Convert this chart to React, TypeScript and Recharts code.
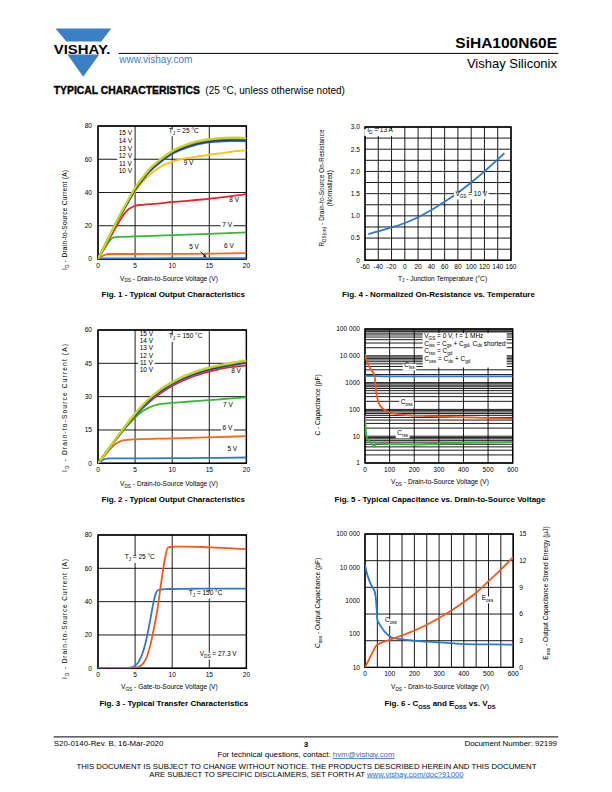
import React from "react";
import {
  LineChart,
  Line,
  XAxis,
  YAxis,
  CartesianGrid,
  ReferenceArea,
  ReferenceDot,
  ReferenceLine,
} from "recharts";

// ---------- Fig. 1 - output characteristics, TJ = 25 °C ----------
const fig1Vds = [0, 1, 2, 3, 4, 5, 6, 7, 8, 9, 10, 11, 12, 13, 14, 15, 16, 17, 18, 19, 20];
const fig1Id15V = [0, 9, 18, 27, 35, 43, 49, 54.5, 58.5, 62, 65, 67.2, 69, 70.4, 71.4, 72.1, 72.6, 72.9, 73, 73, 72.8];
const fig1Id14V = [0, 9, 18, 26.8, 34.8, 42.7, 48.7, 54.2, 58.2, 61.7, 64.7, 66.9, 68.6, 70, 71, 71.7, 72.2, 72.5, 72.6, 72.6, 72.4];
const fig1Id13V = [0, 8.9, 17.8, 26.6, 34.5, 42.4, 48.4, 53.8, 57.8, 61.3, 64.3, 66.5, 68.2, 69.6, 70.6, 71.3, 71.8, 72.1, 72.2, 72.2, 72];
const fig1Id12V = [0, 8.9, 17.7, 26.4, 34.3, 42.1, 48.1, 53.5, 57.5, 61, 64, 66.1, 67.8, 69.2, 70.2, 70.9, 71.4, 71.7, 71.8, 71.8, 71.6];
const fig1Id11V = [0, 8.8, 17.6, 26.2, 34, 41.8, 47.8, 53.1, 57.1, 60.6, 63.6, 65.7, 67.4, 68.8, 69.8, 70.5, 71, 71.2, 71.3, 71.3, 71.1];
const fig1Id10V = [0, 8.8, 17.5, 26, 33.8, 41.5, 47.4, 52.7, 56.7, 60.2, 63.2, 65.3, 67, 68.4, 69.4, 70.1, 70.5, 70.8, 70.9, 70.9, 70.8];
const fig1Id9V = [0, 8.7, 17.3, 25.7, 33.3, 40.5, 46.2, 50.8, 54.3, 56.8, 58.6, 59.8, 60.7, 61.4, 62.1, 62.7, 63.3, 63.9, 64.5, 65, 65.5];
const fig1Vds8V = [0, 1, 2, 3, 3.5, 4, 4.5, 5, 6, 8, 10, 12, 14, 16, 18, 20];
const fig1Id8V = [0, 8, 15.8, 23.5, 27, 29.5, 31, 32, 32.6, 33.3, 34.3, 35, 35.8, 36.8, 37.8, 39];
const fig1Vds7V = [0, 0.5, 1, 1.5, 2, 2.5, 3, 5, 10, 15, 20];
const fig1Id7V = [0, 3.5, 7, 10.5, 12.8, 13.2, 13.3, 13.6, 14.3, 15.1, 16];
const fig1Vds6V = [0, 0.5, 1, 1.5, 2, 5, 10, 15, 20];
const fig1Id6V = [0, 1.5, 2.7, 3, 3, 3, 3.1, 3.2, 3.5];
const fig1Vds5V = [0, 0.5, 1, 5, 10, 15, 20];
const fig1Id5V = [0, 0.3, 0.4, 0.4, 0.45, 0.5, 0.5];

// ---------- Fig. 2 - output characteristics, TJ = 150 °C ----------
const fig2Vds = [0, 1, 2, 3, 4, 5, 6, 7, 8, 9, 10, 11, 12, 13, 14, 15, 16, 17, 18, 19, 20];
const fig2Id15V = [0, 4.5, 9.2, 13.8, 18.2, 22.4, 26.2, 29.5, 32.3, 34.6, 36.6, 38.3, 39.8, 41.1, 42.2, 43.1, 43.9, 44.6, 45.2, 45.8, 46.3];
const fig2Id14V = [0, 4.5, 9.1, 13.7, 18.1, 22.2, 26, 29.2, 32, 34.3, 36.3, 38, 39.5, 40.8, 41.9, 42.8, 43.6, 44.3, 44.9, 45.5, 46];
const fig2Id13V = [0, 4.5, 9.1, 13.6, 18, 22.1, 25.8, 29, 31.8, 34.1, 36.1, 37.8, 39.3, 40.6, 41.7, 42.6, 43.4, 44.1, 44.7, 45.3, 45.8];
const fig2Id12V = [0, 4.5, 9, 13.5, 17.9, 21.9, 25.6, 28.8, 31.6, 33.9, 35.9, 37.6, 39.1, 40.4, 41.5, 42.4, 43.2, 43.9, 44.5, 45.1, 45.6];
const fig2Id11V = [0, 4.4, 9, 13.5, 17.8, 21.8, 25.4, 28.6, 31.4, 33.7, 35.7, 37.4, 38.9, 40.2, 41.3, 42.2, 43, 43.7, 44.3, 44.9, 45.4];
const fig2Id10V = [0, 4.4, 8.9, 13.4, 17.7, 21.6, 25.2, 28.4, 31.2, 33.5, 35.5, 37.2, 38.7, 40, 41.1, 42, 42.8, 43.5, 44.1, 44.6, 45.1];
const fig2Id8V = [0, 4.4, 8.9, 13.3, 17.5, 21.2, 24.7, 27.8, 30.5, 32.8, 34.8, 36.5, 38, 39.3, 40.4, 41.3, 42.1, 42.8, 43.3, 43.7, 44.1];
const fig2Vds7V = [0, 1, 2, 3, 4, 5, 6, 7, 8, 9, 10, 12, 14, 16, 18, 20];
const fig2Id7V = [0, 4.4, 8.8, 13, 17, 20.6, 23.4, 25.3, 26.4, 26.9, 27.2, 27.7, 28.2, 28.7, 29.2, 29.7];
const fig2Vds6V = [0, 1, 2, 2.5, 3, 3.5, 4, 5, 10, 15, 20];
const fig2Id6V = [0, 3.8, 7.6, 9, 9.9, 10.4, 10.6, 10.8, 11.2, 11.7, 12.2];
const fig2Vds5V = [0, 0.5, 1, 1.5, 5, 10, 15, 20];
const fig2Id5V = [0, 1.2, 2, 2.2, 2.2, 2.3, 2.4, 2.6];

// ---------- Fig. 3 - transfer characteristics ----------
const fig3Vgs25 = [0, 4, 5, 5.5, 6, 6.5, 7, 7.5, 8, 8.5, 9, 9.4, 9.8, 10.5, 12, 14, 16, 18, 20];
const fig3Id25 = [0.3, 0.3, 0.4, 1, 2.5, 6, 13, 23, 35, 51, 65, 72.3, 72.8, 73, 73, 72.8, 72.4, 72, 71.5];
const fig3Vgs150 = [0, 2, 4, 4.5, 5, 5.5, 6, 6.5, 7, 7.5, 7.8, 8.1, 8.5, 9, 10, 12, 14, 16, 18, 20];
const fig3Id150 = [0.3, 0.3, 0.3, 0.5, 1.5, 4, 9, 17, 28, 40, 45, 47, 47.3, 47.5, 47.6, 47.7, 47.8, 47.8, 47.8, 47.8];

// ---------- Fig. 4 - normalized RDS(on) vs. temperature ----------
const fig4Tj = [-55, -40, -20, 0, 20, 40, 60, 80, 100, 120, 140, 150];
const fig4Rds = [0.59, 0.65, 0.74, 0.84, 0.97, 1.13, 1.32, 1.52, 1.75, 2.0, 2.27, 2.41];

// ---------- Fig. 5 - capacitance vs. VDS ----------
const fig5VdsCiss = [0, 50, 100, 200, 300, 400, 500, 600];
const fig5Ciss = [1800, 1750, 1720, 1710, 1700, 1700, 1700, 1700];
const fig5VdsCoss = [0, 5, 10, 20, 30, 36, 40, 43, 46, 50, 55, 65, 80, 100, 130, 180, 250, 350, 450, 600];
const fig5Coss = [11500, 7500, 5400, 3500, 2600, 2100, 1500, 800, 400, 270, 180, 125, 95, 78, 66, 60, 56, 52, 49, 45];
const fig5VdsCrss = [0, 2, 4, 7, 12, 20, 28, 34, 38, 42, 47, 55, 70, 100, 150, 200, 300, 400, 500, 600];
const fig5Crss = [60, 25, 13, 9, 7.5, 6.2, 5, 4.2, 4, 4.8, 5.6, 5.5, 5.3, 5.1, 5, 4.9, 5.3, 5.6, 5.8, 6];
const fig5Legend = [
  "V_{GS} = 0 V, f = 1 MHz",
  "C_{iss} = C_{gs} + C_{gd}, C_{ds} shorted",
  "C_{rss} = C_{gd}",
  "C_{oss} = C_{ds} + C_{gd}",
];

// ---------- Fig. 6 - Coss and Eoss vs. VDS ----------
const fig6VdsCoss = [0, 8, 16, 26, 36, 40, 43, 47, 50, 57, 64, 75, 84, 104, 130, 158, 200, 253, 320, 388, 500, 600];
const fig6Coss = [12000, 6500, 4300, 2900, 2140, 1800, 1350, 600, 270, 210, 170, 130, 108, 81, 73, 68, 63, 59, 55, 51, 49, 48];
const fig6VdsEoss = [0, 10, 20, 30, 40, 47, 60, 100, 150, 200, 250, 300, 350, 400, 450, 500, 550, 600];
const fig6Eoss = [0, 0.55, 1.1, 1.65, 2.2, 2.5, 2.7, 3.1, 3.6, 4.15, 4.8, 5.55, 6.4, 7.35, 8.4, 9.7, 11.0, 12.4];

// ---------- ticks ----------
const vTicks20 = [0, 5, 10, 15, 20];
const id80Ticks = [0, 20, 40, 60, 80];
const id60Ticks = [0, 15, 30, 45, 60];
const tjTicks = [-60, -40, -20, 0, 20, 40, 60, 80, 100, 120, 140, 160];
const rdsTicks = [0, 0.25, 0.5, 0.75, 1, 1.25, 1.5, 1.75, 2, 2.25, 2.5, 2.75, 3];
const v600Ticks = [0, 100, 200, 300, 400, 500, 600];
const v600Ticks50 = [0, 50, 100, 150, 200, 250, 300, 350, 400, 450, 500, 550, 600];
const capDecades = [1, 10, 100, 1000, 10000];
const capMinor = [1, 2, 3, 4, 5, 6, 7, 8, 9];
const capTicks = [...capDecades.flatMap((d) => capMinor.map((m) => d * m)), 100000];
const cossTicks = [10, 100, 1000, 10000, 100000];
const eossTicks = [0, 3, 6, 9, 12, 15];
const capLabels: Record<number, string> = {
  1: "1", 10: "10", 100: "100", 1000: "1000", 10000: "10\u00a0000", 100000: "100\u00a0000",
};

// ---------- labels placed in data units ----------
const fig1Tags = [
  { text: "15 V", x: 3.7, y: 74.6 },
  { text: "14 V", x: 3.7, y: 69.8 },
  { text: "13 V", x: 3.7, y: 65.2 },
  { text: "12 V", x: 3.7, y: 60.6 },
  { text: "11 V", x: 3.7, y: 56.1 },
  { text: "10 V", x: 3.7, y: 51.9 },
  { text: "T_{J} = 25 °C", x: 11.55, y: 76 },
  { text: "9 V", x: 12.2, y: 56.5 },
  { text: "8 V", x: 18.35, y: 34.1 },
  { text: "7 V", x: 17.4, y: 19.25 },
  { text: "6 V", x: 17.65, y: 6.6 },
  { text: "5 V", x: 12.94, y: 5.8 },
];
const fig2Tags = [
  { text: "15 V", x: 6.52, y: 57.5 },
  { text: "14 V", x: 6.52, y: 54.2 },
  { text: "13 V", x: 6.52, y: 50.9 },
  { text: "12 V", x: 6.52, y: 47.6 },
  { text: "11 V", x: 6.52, y: 44.2 },
  { text: "10 V", x: 6.52, y: 40.9 },
  { text: "T_{J} = 150 °C", x: 11.8, y: 56.2 },
  { text: "8 V", x: 18.6, y: 40.5 },
  { text: "7 V", x: 17.5, y: 25.2 },
  { text: "6 V", x: 17.45, y: 15 },
  { text: "5 V", x: 18.1, y: 5.7 },
];
const fig3Tags = [
  { text: "T_{J} = 25 °C", x: 5.62, y: 65.4 },
  { text: "T_{J} = 150 °C", x: 14.5, y: 44 },
  { text: "V_{DS} = 27.3 V", x: 16.2, y: 7.4 },
];
const fig4Tags = [
  { text: "I_{D} = 13 A", x: -37.4, y: 2.88 },
  { text: "V_{GS} = 10 V", x: 100.2, y: 1.45 },
];
const fig5Tags = [
  { text: "C_{iss}", x: 181, y: 3820 },
  { text: "C_{oss}", x: 169, y: 163 },
  { text: "C_{rss}", x: 153, y: 11.4 },
];
const fig6Tags = [
  { text: "C_{oss}", x: 105, y: 223 },
  { text: "E_{oss}", x: 496, y: 1070 },
];

const FONT = '"Liberation Sans", Arial, Helvetica, sans-serif';
const BLUE = "#2f78c8";
const ORANGE = "#f05a1e";
const GREEN = "#3cb43c";
const RED = "#e8262b";
const GOLD = "#ffc20e";
const gateColors: Record<string, string> = {
  "15 V": "#c6d42c",
  "14 V": "#a3a23a",
  "13 V": "#555555",
  "12 V": "#1c2f6b",
  "11 V": "#2a55a5",
  "10 V": "#3478c8",
  "9 V": GOLD,
  "8 V": RED,
  "7 V": GREEN,
  "6 V": "#f26a21",
  "5 V": BLUE,
};

const pts = (xs: number[], ys: number[]) => xs.map((x, i) => ({ x, y: ys[i] }));

const fig1Series = [
  { name: "5 V", x: fig1Vds5V, y: fig1Id5V },
  { name: "6 V", x: fig1Vds6V, y: fig1Id6V },
  { name: "7 V", x: fig1Vds7V, y: fig1Id7V },
  { name: "8 V", x: fig1Vds8V, y: fig1Id8V },
  { name: "9 V", x: fig1Vds, y: fig1Id9V },
  { name: "10 V", x: fig1Vds, y: fig1Id10V },
  { name: "11 V", x: fig1Vds, y: fig1Id11V },
  { name: "12 V", x: fig1Vds, y: fig1Id12V },
  { name: "13 V", x: fig1Vds, y: fig1Id13V },
  { name: "14 V", x: fig1Vds, y: fig1Id14V },
  { name: "15 V", x: fig1Vds, y: fig1Id15V },
];
const fig2Series = [
  { name: "5 V", x: fig2Vds5V, y: fig2Id5V },
  { name: "6 V", x: fig2Vds6V, y: fig2Id6V },
  { name: "7 V", x: fig2Vds7V, y: fig2Id7V },
  { name: "8 V", x: fig2Vds, y: fig2Id8V },
  { name: "10 V", x: fig2Vds, y: fig2Id10V },
  { name: "11 V", x: fig2Vds, y: fig2Id11V },
  { name: "12 V", x: fig2Vds, y: fig2Id12V },
  { name: "13 V", x: fig2Vds, y: fig2Id13V },
  { name: "14 V", x: fig2Vds, y: fig2Id14V },
  { name: "15 V", x: fig2Vds, y: fig2Id15V },
];

// chart box geometry: plot rect in page px
const MT = 6;
const MR = 6;
const YW = 40;
const XH = 16;
type PlotRect = { L: number; T: number; W: number; H: number; RW?: number };
const fig1Rect: PlotRect = { L: 98.3, T: 126, W: 148.4, H: 133 };
const fig2Rect: PlotRect = { L: 98.3, T: 330, W: 148.4, H: 133.3 };
const fig3Rect: PlotRect = { L: 98.3, T: 535, W: 148.4, H: 133.3 };
const fig4Rect: PlotRect = { L: 365, T: 126.7, W: 146, H: 133.3 };
const fig5Rect: PlotRect = { L: 365, T: 329.3, W: 147.7, H: 134 };
const fig6Rect: PlotRect = { L: 364.5, T: 534.3, W: 148.2, H: 133.4, RW: 24 };

const tickStyle = { fontSize: 6.6, fill: "#000" };

function Rich({ s, size }: { s: string; size: number }) {
  const parts = s.split(/(_\{[^}]*\})/).filter((p) => p !== "");
  const shift = size * 0.3;
  let low = false;
  return (
    <>
      {parts.map((p, i) => {
        if (p.startsWith("_{")) {
          const el = (
            <tspan key={i} fontSize={size * 0.72} dy={low ? 0 : shift}>
              {p.slice(2, -1)}
            </tspan>
          );
          low = true;
          return el;
        }
        const el = (
          <tspan key={i} fontSize={size} dy={low ? -shift : 0}>
            {p}
          </tspan>
        );
        low = false;
        return el;
      })}
    </>
  );
}

function charW(c: string) {
  if (c === " ") return 0.278;
  if (/[0-9]/.test(c)) return 0.556;
  if (/[ilj.,:;|]/.test(c)) return 0.24;
  if (/[ft()\-r]/.test(c)) return 0.31;
  if (/[mwMW]/.test(c)) return 0.85;
  if (/[A-Z]/.test(c)) return 0.68;
  if (c === "=" || c === "+") return 0.584;
  if (c === "°") return 0.4;
  return 0.53;
}
function textWidth(s: string, size: number) {
  return s
    .split(/(_\{[^}]*\})/)
    .filter((p) => p !== "")
    .reduce((w, p) => {
      const sub = p.startsWith("_{");
      const t = sub ? p.slice(2, -1) : p;
      return w + [...t].reduce((a, c) => a + charW(c), 0) * size * (sub ? 0.72 : 1);
    }, 0);
}

const tagShape = (text: string, size = 6.5) => (p: any) => {
  const w = textWidth(text, size);
  return (
    <g>
      <rect x={p.cx - w / 2 - 1.5} y={p.cy - size * 0.5} width={w + 3} height={size * 1.05} fill="#fff" />
      <text x={p.cx} y={p.cy} dy={size * 0.35} textAnchor="middle" fontSize={size} fill="#000">
        <Rich s={text} size={size} />
      </text>
    </g>
  );
};

const legendShape = (p: any) => (
  <g>
    <rect x={p.cx} y={p.cy} width={84} height={34.5} fill="#fff" />
    {fig5Legend.map((s, i) => (
      <text key={i} x={p.cx + 1.5} y={p.cy + 5 + i * 7.55} dy={2.3} fontSize={6.5} fill="#000">
        <Rich s={s} size={6.5} />
      </text>
    ))}
  </g>
);

const arrowShape = (p: any) => {
  const { x1, y1, x2, y2 } = p;
  const a = Math.atan2(y2 - y1, x2 - x1);
  const len = 3.4;
  const hw = 1.7;
  const bx = x2 - len * Math.cos(a);
  const by = y2 - len * Math.sin(a);
  const head = `${x2},${y2} ${bx + hw * Math.sin(a)},${by - hw * Math.cos(a)} ${bx - hw * Math.sin(a)},${by + hw * Math.cos(a)}`;
  return (
    <g>
      <line x1={x1} y1={y1} x2={bx} y2={by} stroke="#000" strokeWidth={0.8} />
      <polygon points={head} fill="#000" />
    </g>
  );
};

function Frame({ r, children }: { r: PlotRect; children: React.ReactNode }) {
  const rw = r.RW ?? 0;
  const w = YW + r.W + MR + rw;
  const h = MT + r.H + XH;
  return (
    <div style={{ position: "absolute", left: r.L - YW, top: r.T - MT, width: w, height: h }}>
      <LineChart width={w} height={h} margin={{ top: MT, right: MR, bottom: 0, left: 0 }}>
        {children}
      </LineChart>
    </div>
  );
}

function Txt({
  x, y, s, size = 6.6, anchor = "start", weight = "normal", rotate = false, len, fill = "#000",
}: {
  x: number; y: number; s: string; size?: number; anchor?: string; weight?: string;
  rotate?: boolean; len?: number; fill?: string;
}) {
  return (
    <text
      x={rotate ? 0 : x}
      y={rotate ? 0 : y}
      transform={rotate ? `translate(${x},${y}) rotate(-90)` : undefined}
      textAnchor={anchor as any}
      fontSize={size}
      fontWeight={weight}
      fill={fill}
      textLength={len}
      lengthAdjust={len ? "spacing" : undefined}
    >
      <Rich s={s} size={size} />
    </text>
  );
}

const xAxisCommon = {
  type: "number" as const,
  dataKey: "x",
  interval: 0 as const,
  tickLine: false,
  axisLine: false,
  tick: tickStyle,
  tickSize: 2,
  tickMargin: 2,
  height: XH,
  allowDataOverflow: true,
};
const yAxisCommon = {
  type: "number" as const,
  interval: 0 as const,
  tickLine: false,
  axisLine: false,
  tick: tickStyle,
  tickSize: 3,
  tickMargin: 3,
  width: YW,
  allowDataOverflow: true,
};

export default function App() {
  return (
    <div
      style={{
        position: "absolute",
        left: 0,
        top: 0,
        width: 612,
        height: 792,
        background: "#fff",
        overflow: "hidden",
        fontFamily: FONT,
      }}
    >
      <svg width={612} height={792} style={{ position: "absolute", left: 0, top: 0 }}>
        {/* header */}
        <polygon points="55.5,28.6 111.3,28.6 101.3,41.6 66.4,41.6" fill="#3b80c6" />
        <polygon points="67.4,54.6 99.2,54.6 83.2,76.8" fill="#3b80c6" />
        <text x={53.8} y={53.6} fontSize={13.6} fontWeight="bold" textLength={56.5} lengthAdjust="spacingAndGlyphs" fill="#000">
          VISHAY.
        </text>
        <line x1={118.5} y1={53.4} x2={558.3} y2={53.4} stroke="#000" strokeWidth={1} />
        <text x={557} y={47.5} fontSize={15.5} fontWeight="bold" textAnchor="end" fill="#000">
          SiHA100N60E
        </text>
        <text x={557} y={67.8} fontSize={13} textAnchor="end" fill="#000">
          Vishay Siliconix
        </text>
        <text x={119.2} y={63.3} fontSize={10} fill="#3b80c6">
          www.vishay.com
        </text>
        <text x={53.8} y={94} fontSize={10} fontWeight={900} stroke="#000" strokeWidth={0.35} fill="#000" textLength={146} lengthAdjust="spacingAndGlyphs">
          TYPICAL CHARACTERISTICS
        </text>
        <text x={205.3} y={94} fontSize={10} fill="#000">
          (25 °C, unless otherwise noted)
        </text>

        {/* axis titles */}
        <Txt x={120} y={280.5} s="V_{DS} - Drain-to-Source Voltage (V)" />
        <Txt x={67} y={220} s="I_{D} - Drain-to-Source Current (A)" anchor="middle" rotate len={100} />
        <Txt x={120} y={485.7} s="V_{DS} - Drain-to-Source Voltage (V)" />
        <Txt x={67} y={408} s="I_{D} - Drain-to-Source Current (A)" anchor="middle" rotate len={128} />
        <Txt x={121} y={689.3} s="V_{GS} - Gate-to-Source Voltage (V)" />
        <Txt x={67} y={619} s="I_{D} - Drain-to-Source Current (A)" anchor="middle" rotate len={120} />
        <Txt x={442.5} y={280.5} s="T_{J} - Junction Temperature (°C)" anchor="middle" />
        <Txt x={324} y={188} s="R_{DS(on)} - Drain-to-Source On-Resistance" size={6.3} anchor="middle" rotate len={117} />
        <Txt x={331.5} y={188.3} s="(Normalized)" size={6.3} anchor="middle" rotate />
        <Txt x={391} y={484.3} s="V_{DS} - Drain-to-Source Voltage (V)" />
        <Txt x={319.5} y={405} s="C - Capacitance (pF)" anchor="middle" rotate />
        <Txt x={391} y={689.3} s="V_{DS} - Drain-to-Source Voltage (V)" />
        <Txt x={320} y={603} s="C_{oss} - Output Capacitance (pF)" anchor="middle" rotate />
        <Txt x={548} y={593} s="E_{oss} - Output Capacitance Stored Energy (µJ)" anchor="middle" rotate />

        {/* captions */}
        <Txt x={173.3} y={296.5} s="Fig. 1 - Typical Output Characteristics" size={8} weight="bold" anchor="middle" />
        <Txt x={438.5} y={296.5} s="Fig. 4 - Normalized On-Resistance vs. Temperature" size={8} weight="bold" anchor="middle" />
        <Txt x={173.3} y={501.5} s="Fig. 2 - Typical Output Characteristics" size={8} weight="bold" anchor="middle" />
        <Txt x={440} y={501.5} s="Fig. 5 - Typical Capacitance vs. Drain-to-Source Voltage" size={8} weight="bold" anchor="middle" />
        <Txt x={173.8} y={706.4} s="Fig. 3 - Typical Transfer Characteristics" size={8} weight="bold" anchor="middle" />
        <Txt x={440} y={706.4} s="Fig. 6 - C_{OSS} and E_{OSS} vs. V_{DS}" size={8} weight="bold" anchor="middle" />

        {/* footer */}
        <line x1={53.8} y1={736.9} x2={558.3} y2={736.9} stroke="#000" strokeWidth={1} />
        <text x={53.8} y={746.4} fontSize={7.9} fill="#000">S20-0140-Rev. B, 16-Mar-2020</text>
        <text x={306} y={747} fontSize={8} fontWeight="bold" textAnchor="middle" fill="#000">3</text>
        <text x={557} y={746.4} fontSize={7.9} textAnchor="end" fill="#000">Document Number: 92199</text>
        <text x={306} y={757.2} fontSize={7.9} textAnchor="middle" fill="#000">
          For technical questions, contact:{" "}
          <tspan fill="#2a6fc9" textDecoration="underline">hvm@vishay.com</tspan>
        </text>
        <text x={306.4} y={768.5} fontSize={7.7} textAnchor="middle" fill="#000" textLength={460} lengthAdjust="spacingAndGlyphs">
          THIS DOCUMENT IS SUBJECT TO CHANGE WITHOUT NOTICE. THE PRODUCTS DESCRIBED HEREIN AND THIS DOCUMENT
        </text>
        <text x={306.4} y={776.5} fontSize={7.7} textAnchor="middle" fill="#000">
          ARE SUBJECT TO SPECIFIC DISCLAIMERS, SET FORTH AT{" "}
          <tspan fill="#2a6fc9" textDecoration="underline">www.vishay.com/doc?91000</tspan>
        </text>
      </svg>

      {/* Fig. 1 */}
      <Frame r={fig1Rect}>
        <CartesianGrid stroke="#000" strokeWidth={0.9} />
        <XAxis {...xAxisCommon} domain={[0, 20]} ticks={vTicks20} />
        <YAxis {...yAxisCommon} domain={[0, 80]} ticks={id80Ticks} />
        {fig1Series.map((s) => (
          <Line
            key={s.name}
            data={pts(s.x, s.y)}
            dataKey="y"
            type="monotone"
            stroke={gateColors[s.name]}
            strokeWidth={s.name === "15 V" ? 2.2 : 1.8}
            dot={false}
            isAnimationActive={false}
          />
        ))}
        <ReferenceArea x1={0} x2={20} y1={0} y2={80} fill="none" stroke="#000" strokeWidth={1.4} ifOverflow="visible" />
        {fig1Tags.map((t) => (
          <ReferenceDot key={t.text} x={t.x} y={t.y} r={0} shape={tagShape(t.text)} ifOverflow="visible" />
        ))}
        <ReferenceLine segment={[{ x: 13.75, y: 4.8 }, { x: 14.6, y: 0.9 }]} shape={arrowShape} ifOverflow="visible" />
      </Frame>

      {/* Fig. 2 */}
      <Frame r={fig2Rect}>
        <CartesianGrid stroke="#000" strokeWidth={0.9} />
        <XAxis {...xAxisCommon} domain={[0, 20]} ticks={vTicks20} />
        <YAxis {...yAxisCommon} domain={[0, 60]} ticks={id60Ticks} />
        {fig2Series.map((s) => (
          <Line
            key={s.name}
            data={pts(s.x, s.y)}
            dataKey="y"
            type="monotone"
            stroke={gateColors[s.name]}
            strokeWidth={s.name === "15 V" ? 2.2 : 1.8}
            dot={false}
            isAnimationActive={false}
          />
        ))}
        <ReferenceArea x1={0} x2={20} y1={0} y2={60} fill="none" stroke="#000" strokeWidth={1.4} ifOverflow="visible" />
        {fig2Tags.map((t) => (
          <ReferenceDot key={t.text} x={t.x} y={t.y} r={0} shape={tagShape(t.text)} ifOverflow="visible" />
        ))}
      </Frame>

      {/* Fig. 3 */}
      <Frame r={fig3Rect}>
        <CartesianGrid stroke="#000" strokeWidth={0.9} />
        <XAxis {...xAxisCommon} domain={[0, 20]} ticks={vTicks20} />
        <YAxis {...yAxisCommon} domain={[0, 80]} ticks={id80Ticks} />
        <Line data={pts(fig3Vgs150, fig3Id150)} dataKey="y" type="monotone" stroke={BLUE} strokeWidth={1.8} dot={false} isAnimationActive={false} />
        <Line data={pts(fig3Vgs25, fig3Id25)} dataKey="y" type="monotone" stroke={ORANGE} strokeWidth={1.8} dot={false} isAnimationActive={false} />
        <ReferenceArea x1={0} x2={20} y1={0} y2={80} fill="none" stroke="#000" strokeWidth={1.4} ifOverflow="visible" />
        {fig3Tags.map((t) => (
          <ReferenceDot key={t.text} x={t.x} y={t.y} r={0} shape={tagShape(t.text)} ifOverflow="visible" />
        ))}
      </Frame>

      {/* Fig. 4 */}
      <Frame r={fig4Rect}>
        <CartesianGrid stroke="#000" strokeWidth={0.9} />
        <XAxis {...xAxisCommon} domain={[-60, 160]} ticks={tjTicks} />
        <YAxis
          {...yAxisCommon}
          tickMargin={2}
          domain={[0, 3]}
          ticks={rdsTicks}
          tickFormatter={(v: number) => (Math.abs(v * 2 - Math.round(v * 2)) < 1e-6 ? (v === 0 ? "0" : v.toFixed(1)) : "")}
        />
        <Line data={pts(fig4Tj, fig4Rds)} dataKey="y" type="monotone" stroke={BLUE} strokeWidth={1.8} dot={false} isAnimationActive={false} />
        <ReferenceArea x1={-60} x2={160} y1={0} y2={3} fill="none" stroke="#000" strokeWidth={1.4} ifOverflow="visible" />
        {fig4Tags.map((t) => (
          <ReferenceDot key={t.text} x={t.x} y={t.y} r={0} shape={tagShape(t.text)} ifOverflow="visible" />
        ))}
      </Frame>

      {/* Fig. 5 */}
      <Frame r={fig5Rect}>
        <CartesianGrid stroke="#000" strokeWidth={0.9} />
        <XAxis {...xAxisCommon} domain={[0, 600]} ticks={v600Ticks} />
        <YAxis
          {...yAxisCommon}
          tickMargin={2}
          scale="log"
          domain={[1, 100000]}
          ticks={capTicks}
          tickFormatter={(v: number) => capLabels[v] ?? ""}
        />
        <Line data={pts(fig5VdsCiss, fig5Ciss)} dataKey="y" type="monotone" stroke={BLUE} strokeWidth={1.8} dot={false} isAnimationActive={false} />
        <Line data={pts(fig5VdsCoss, fig5Coss)} dataKey="y" type="monotone" stroke={ORANGE} strokeWidth={1.8} dot={false} isAnimationActive={false} />
        <Line data={pts(fig5VdsCrss, fig5Crss)} dataKey="y" type="monotone" stroke={GREEN} strokeWidth={1.8} dot={false} isAnimationActive={false} />
        <ReferenceArea x1={0} x2={600} y1={1} y2={100000} fill="none" stroke="#000" strokeWidth={1.4} ifOverflow="visible" />
        <ReferenceDot x={234.4} y={71000} r={0} shape={legendShape} ifOverflow="visible" />
        {fig5Tags.map((t) => (
          <ReferenceDot key={t.text} x={t.x} y={t.y} r={0} shape={tagShape(t.text)} ifOverflow="visible" />
        ))}
      </Frame>

      {/* Fig. 6 */}
      <Frame r={fig6Rect}>
        <CartesianGrid stroke="#000" strokeWidth={0.9} yAxisId="right" />
        <XAxis
          {...xAxisCommon}
          domain={[0, 600]}
          ticks={v600Ticks50}
          tickFormatter={(v: number) => (v % 100 === 0 ? String(v) : "")}
        />
        <YAxis
          {...yAxisCommon}
          yAxisId="left"
          tickMargin={2}
          scale="log"
          domain={[10, 100000]}
          ticks={cossTicks}
          tickFormatter={(v: number) => capLabels[v] ?? ""}
        />
        <YAxis
          {...yAxisCommon}
          yAxisId="right"
          orientation="right"
          width={24}
          domain={[0, 15]}
          ticks={eossTicks}
        />
        <Line yAxisId="left" data={pts(fig6VdsCoss, fig6Coss)} dataKey="y" type="monotone" stroke={BLUE} strokeWidth={1.8} dot={false} isAnimationActive={false} />
        <Line yAxisId="right" data={pts(fig6VdsEoss, fig6Eoss)} dataKey="y" type="monotone" stroke={ORANGE} strokeWidth={1.8} dot={false} isAnimationActive={false} />
        <ReferenceArea yAxisId="right" x1={0} x2={600} y1={0} y2={15} fill="none" stroke="#000" strokeWidth={1.4} ifOverflow="visible" />
        {fig6Tags.map((t) => (
          <ReferenceDot key={t.text} yAxisId="left" x={t.x} y={t.y} r={0} shape={tagShape(t.text)} ifOverflow="visible" />
        ))}
      </Frame>
    </div>
  );
}
